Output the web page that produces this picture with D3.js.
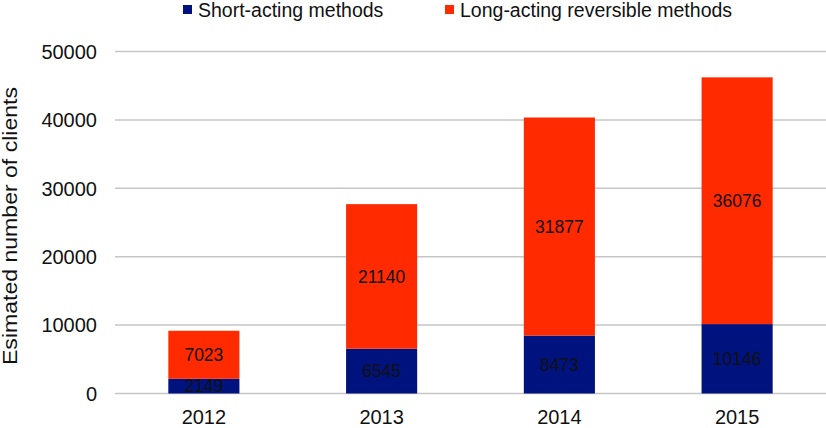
<!DOCTYPE html>
<html>
<head>
<meta charset="utf-8">
<script src="https://cdn.jsdelivr.net/npm/d3@7"></script>
<style>
  body { margin: 0; background: #fff; }
  text { font-family: "Liberation Sans", Arial, sans-serif; fill: #111; }
</style>
</head>
<body>
<svg width="826" height="428"></svg>
<script>
const years = ['2012', '2013', '2014', '2015']
const shortActing = [2149, 6545, 8473, 10146]
const longActing = [7023, 21140, 31877, 36076]
const yTicks = [0, 10000, 20000, 30000, 40000, 50000]
const seriesNames = ['Short-acting methods', 'Long-acting reversible methods']
const colors = ['#00127e', '#ff2a00']

const svg = d3.select('svg')
const plot = { left: 115, right: 826, top: 51.5, bottom: 393.5 }

const x = d3.scaleBand()
  .domain(years)
  .range([plot.left, plot.right])
  .paddingInner(0.6)
  .paddingOuter(0.3)
const y = d3.scaleLinear()
  .domain([0, 50000])
  .range([plot.bottom, plot.top])

// gridlines
svg.append('g')
  .selectAll('line')
  .data(yTicks)
  .join('line')
  .attr('x1', plot.left)
  .attr('x2', plot.right)
  .attr('y1', d => y(d))
  .attr('y2', d => y(d))
  .attr('stroke', '#c6c6c6')
  .attr('stroke-width', 1.5)

// y tick labels
svg.append('g')
  .selectAll('text')
  .data(yTicks)
  .join('text')
  .attr('x', 97)
  .attr('y', d => y(d))
  .attr('dy', '0.36em')
  .attr('text-anchor', 'end')
  .attr('font-size', 20)
  .text(d => d)

// stacked data
const rows = years.map((yr, i) => ({ year: yr, s: shortActing[i], l: longActing[i] }))
const stack = d3.stack().keys(['s', 'l'])(rows)

const layers = svg.append('g')
  .selectAll('g')
  .data(stack)
  .join('g')
  .attr('fill', (d, i) => colors[i])

layers.selectAll('rect')
  .data(d => d)
  .join('rect')
  .attr('x', d => x(d.data.year))
  .attr('width', x.bandwidth())
  .attr('y', d => y(d[1]))
  .attr('height', d => y(d[0]) - y(d[1]))

// value labels
layers.selectAll('text')
  .data(d => d.map(p => ({ p, v: p[1] - p[0] })))
  .join('text')
  .attr('x', d => x(d.p.data.year) + x.bandwidth() / 2)
  .attr('y', d => (y(d.p[0]) + y(d.p[1])) / 2)
  .attr('dy', '0.36em')
  .attr('text-anchor', 'middle')
  .attr('font-size', 17.5)
  .style('fill', '#111')
  .text(d => d.v)

// x labels
svg.append('g')
  .selectAll('text')
  .data(years)
  .join('text')
  .attr('x', d => x(d) + x.bandwidth() / 2)
  .attr('y', 424)
  .attr('text-anchor', 'middle')
  .attr('font-size', 20)
  .text(d => d)

// y title
svg.append('text')
  .attr('transform', 'translate(17,226) rotate(-90)')
  .attr('text-anchor', 'middle')
  .attr('font-size', 20)
  .attr('textLength', 278)
  .attr('lengthAdjust', 'spacingAndGlyphs')
  .text('Esimated number of clients')

// legend
const legendX = [183, 445]
const legend = svg.append('g')
  .selectAll('g')
  .data(seriesNames)
  .join('g')
  .attr('transform', (d, i) => `translate(${legendX[i]},0)`)
legend.append('rect')
  .attr('y', 5)
  .attr('width', 9)
  .attr('height', 9)
  .attr('fill', (d, i) => colors[i])
legend.append('text')
  .attr('x', 15)
  .attr('y', 17)
  .attr('font-size', 19.5)
  .text(d => d)
</script>
</body>
</html>
